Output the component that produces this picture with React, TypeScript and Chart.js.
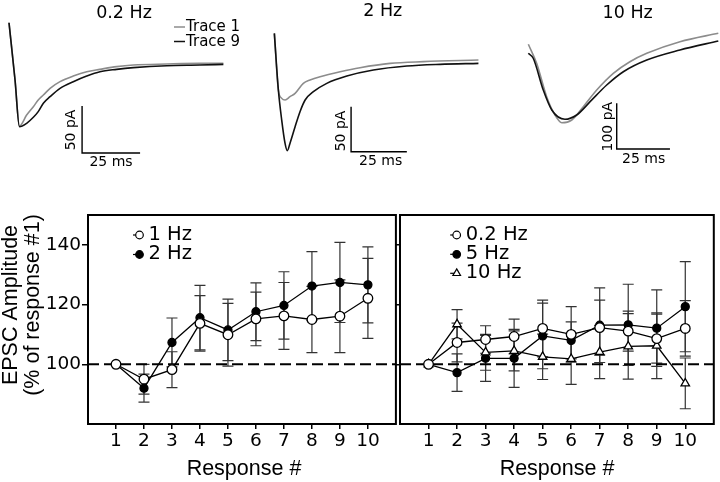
import React, { useEffect, useRef } from 'react';
import { Chart, registerables } from 'chart.js';

Chart.register(...registerables);

const SANS = 'DejaVu Sans';
const ARIAL = 'Liberation Sans';
Chart.defaults.font.family = SANS;
Chart.defaults.color = '#000';

// ---------------- Top: EPSC traces (time in ms, current in pA vs. baseline) ----------------
const T_02HZ = [0, 2.6, 4.5, 7.6, 10.5, 12.6, 14.8, 17.7, 22.0, 27.7, 33.5, 39.2, 46.4, 53.6, 68.0, 82.3, 92.4];
const I_02HZ_TRACE1 = [43.9, -17.0, -66.0, -54.3, -45.4, -38.3, -33.0, -25.9, -18.8, -12.8, -8.2, -5.7, -2.8, -1.1, 0, 0.7, 0.7];
const I_02HZ_TRACE9 = [43.9, -17.0, -66.7, -63.1, -56.7, -50.7, -41.8, -34.8, -25.9, -18.8, -12.8, -8.2, -5.7, -3.9, -1.8, -1.1, -0.4];

const T_2HZ_TRACE1 = [0, 1.8, 3.3, 4.8, 7.0, 9.3, 13.0, 16.0, 20.5, 29.5, 38.4, 51.9, 66.8, 91.5];
const I_2HZ_TRACE1 = [30.7, -32.2, -41.5, -43.3, -39.6, -35.9, -24.8, -21.1, -17.4, -11.9, -7.4, -2.6, -0.7, 1.1];
const T_2HZ_TRACE9 = [0, 1.8, 3.3, 4.8, 5.8, 7.0, 9.3, 11.5, 13.8, 17.5, 23.5, 32.5, 44.4, 59.4, 74.3, 91.5];
const I_2HZ_TRACE9 = [30.7, -32.2, -65.6, -91.5, -99.6, -91.5, -73.0, -56.3, -43.3, -34.1, -24.8, -16.7, -10.0, -5.6, -3.7, -2.6];

const T_10HZ_TRACE1 = [0, 3.9, 8.6, 12.5, 15.7, 20.4, 25.8, 32.1, 39.9, 47.7, 55.6, 71.2, 89.2];
const I_10HZ_TRACE1 = [-9.4, -51, -124.1, -164.1, -181, -175.1, -146, -109.4, -72.9, -47.5, -29.1, -3.7, 14.7];
const T_10HZ_TRACE9 = [0, 2.3, 7, 11, 17.2, 22.7, 29, 36.8, 44.6, 55.6, 71.2, 89.2];
const I_10HZ_TRACE9 = [-29.1, -40, -109.4, -153.2, -173.5, -164.1, -135, -98.5, -69.4, -43.8, -21.9, -2.2];

// scale bars (ms, pA)
const BAR_02HZ_T = [31.5, 31.5, 56.5];
const BAR_02HZ_I = [-44.7, -94.7, -94.7];
const BAR_2HZ_T = [34.4, 34.4, 59.4];
const BAR_2HZ_I = [-50.8, -100.8, -100.8];
const BAR_10HZ_T = [41.5, 41.5, 66.5];
const BAR_10HZ_I = [-138.5, -238.5, -238.5];

// ---------------- Bottom: EPSC amplitude (% of response #1) ----------------
const RESPONSE = [1, 2, 3, 4, 5, 6, 7, 8, 9, 10];
const X_TICKS = [1, 2, 3, 4, 5, 6, 7, 8, 9, 10];
const Y_TICKS = [100, 120, 140];

const L_1HZ = [100, 95, 98.2, 113.7, 109.9, 115.2, 116.2, 115, 116.1, 122.1];
const L_1HZ_ERR = [0, 5, 6, 9.3, 10.5, 9, 11.2, 11.1, 12.2, 13.4];
const L_2HZ = [100, 92, 107.3, 115.6, 111.5, 117.6, 119.7, 126.2, 127.4, 126.6];
const L_2HZ_ERR = [0, 4.7, 8.2, 10.8, 10.3, 9.7, 11.3, 11.5, 13.4, 12.7];

const R_02HZ = [100, 107.3, 108.3, 109.3, 112, 110, 112.3, 111.1, 108.6, 112];
const R_02HZ_ERR = [0, 6.5, 4.6, 5.8, 9.5, 9.3, 9.2, 6.7, 8.2, 9.3];
const R_5HZ = [100, 97.2, 102, 102, 109.5, 108, 113.1, 113.2, 112.1, 119.3];
const R_5HZ_ERR = [0, 6.3, 7.7, 9.7, 11, 6.2, 12.5, 13.6, 12.8, 15.1];
const R_10HZ = [100, 113.4, 104, 104.5, 102.5, 101.8, 104.1, 106, 106.2, 93.6];
const R_10HZ_ERR = [0, 4.9, 6, 6.7, 7.6, 8.5, 8.9, 11, 11, 8.5];

const pts = (xs: number[], ys: number[]) => xs.map((x, i) => ({ x, y: ys[i] }));

// ---------------- plugins ----------------
const textPlugin = {
  id: 'texts',
  afterDraw(chart: any, _a: any, opts: any) {
    const items = opts.items || [];
    const ctx = chart.ctx;
    for (let k = 0; k < items.length; k++) {
      const it = items[k];
      ctx.save();
      ctx.fillStyle = '#000';
      ctx.font = `${it.size}px "${it.family || SANS}"`;
      ctx.textAlign = it.align || 'center';
      ctx.textBaseline = it.baseline || 'middle';
      ctx.translate(it.x, it.y);
      if (it.rotate) ctx.rotate(-Math.PI / 2);
      ctx.fillText(it.text, 0, 0);
      ctx.restore();
    }
  },
};

const traceKeyPlugin = {
  id: 'traceKey',
  afterDraw(chart: any, _a: any, opts: any) {
    const items = opts.items || [];
    const ctx = chart.ctx;
    for (let k = 0; k < items.length; k++) {
      const it = items[k];
      ctx.save();
      ctx.strokeStyle = it.color;
      ctx.lineWidth = 1.5;
      ctx.beginPath();
      ctx.moveTo(it.x, it.y);
      ctx.lineTo(it.x + 11, it.y);
      ctx.stroke();
      ctx.fillStyle = '#000';
      ctx.font = `15px "${SANS}"`;
      ctx.textAlign = 'left';
      ctx.textBaseline = 'middle';
      ctx.fillText(it.label, it.x + 12, it.y + 0.5);
      ctx.restore();
    }
  },
};

const errorBarPlugin = {
  id: 'errorBars',
  beforeDatasetsDraw(chart: any) {
    const ctx = chart.ctx;
    const xs = chart.scales.x;
    const ys = chart.scales.y;
    ctx.save();
    ctx.strokeStyle = '#333';
    ctx.lineWidth = 1.2;
    chart.data.datasets.forEach((ds: any) => {
      if (!ds.errors) return;
      ds.data.forEach((p: any, i: number) => {
        const e = ds.errors[i];
        if (!e) return;
        const px = xs.getPixelForValue(p.x);
        const y1 = ys.getPixelForValue(p.y + e);
        const y2 = ys.getPixelForValue(p.y - e);
        ctx.beginPath();
        ctx.moveTo(px, y1);
        ctx.lineTo(px, y2);
        ctx.moveTo(px - 5.5, y1);
        ctx.lineTo(px + 5.5, y1);
        ctx.moveTo(px - 5.5, y2);
        ctx.lineTo(px + 5.5, y2);
        ctx.stroke();
      });
    });
    ctx.restore();
  },
};

const boxPlugin = {
  id: 'box',
  afterDraw(chart: any) {
    const { ctx, chartArea: a } = chart;
    ctx.save();
    ctx.strokeStyle = '#000';
    ctx.lineWidth = 2;
    ctx.strokeRect(a.left, a.top, a.right - a.left, a.bottom - a.top);
    ctx.restore();
  },
};

const markerLegendPlugin = {
  id: 'markerLegend',
  afterDraw(chart: any, _a: any, opts: any) {
    const items = opts.items || [];
    const { ctx, chartArea: a } = chart;
    for (let k = 0; k < items.length; k++) {
      const it = items[k];
      const cx = a.left + it.dx;
      const cy = a.top + it.dy;
      ctx.save();
      ctx.strokeStyle = '#000';
      ctx.lineWidth = 1.2;
      ctx.beginPath();
      ctx.moveTo(cx - 6.5, cy);
      ctx.lineTo(cx, cy);
      ctx.stroke();
      ctx.beginPath();
      if (it.style === 'triangle') {
        const r = 4.4;
        ctx.moveTo(cx, cy - r);
        ctx.lineTo(cx + r * 0.866, cy + r * 0.5);
        ctx.lineTo(cx - r * 0.866, cy + r * 0.5);
        ctx.closePath();
      } else {
        ctx.arc(cx, cy, 3.8, 0, Math.PI * 2);
      }
      ctx.fillStyle = it.style === 'filled' ? '#000' : '#fff';
      ctx.fill();
      ctx.stroke();
      ctx.fillStyle = '#000';
      ctx.font = `19.5px "${SANS}"`;
      ctx.textAlign = 'left';
      ctx.textBaseline = 'middle';
      ctx.fillText(it.label, cx + 9, cy - 0.5);
      ctx.restore();
    }
  },
};

// ---------------- chart builders ----------------
function traceConfig(p: any) {
  return {
    type: 'line',
    data: {
      datasets: [
        { data: p.trace9, borderColor: '#111', borderWidth: 1.6, pointRadius: 0, cubicInterpolationMode: 'monotone' },
        { data: p.trace1, borderColor: '#8c8c8c', borderWidth: 1.6, pointRadius: 0, cubicInterpolationMode: 'monotone' },
        { data: p.bar, borderColor: '#000', borderWidth: 1.4, pointRadius: 0, tension: 0 },
      ],
    },
    options: {
      responsive: false,
      animation: false,
      events: [],
      layout: { padding: 0 },
      scales: {
        x: { type: 'linear', display: false, min: p.xMin, max: p.xMax },
        y: { type: 'linear', display: false, min: p.yMin, max: p.yMax },
      },
      plugins: {
        legend: { display: false },
        tooltip: { enabled: false },
        texts: { items: p.texts },
        traceKey: { items: p.keys || [] },
      },
    },
    plugins: [textPlugin, traceKeyPlugin],
  };
}

function ampConfig(p: any) {
  const series = p.series.map((s: any) => ({
    data: pts(RESPONSE, s.values),
    errors: s.errors,
    borderColor: '#000',
    borderWidth: 1.3,
    tension: 0,
    pointStyle: s.style === 'triangle' ? 'triangle' : 'circle',
    pointRadius: s.style === 'filled' ? 4 : s.style === 'triangle' ? 4.9 : 4.8,
    pointBackgroundColor: s.style === 'filled' ? '#000' : '#fff',
    pointBorderColor: '#000',
    pointBorderWidth: 1.3,
  }));
  series.push({
    data: [{ x: 0, y: 100 }, { x: 11, y: 100 }],
    borderColor: '#000',
    borderWidth: 2,
    borderDash: [11, 5],
    pointRadius: 0,
    tension: 0,
  });
  return {
    type: 'line',
    data: { datasets: series },
    options: {
      responsive: false,
      animation: false,
      events: [],
      layout: { padding: { top: 15, right: p.padRight, left: 0, bottom: 0 } },
      scales: {
        x: {
          type: 'linear',
          min: 0,
          max: 11,
          afterBuildTicks: (s: any) => { s.ticks = X_TICKS.map((v) => ({ value: v })); },
          afterFit: (s: any) => { s.height = 58; },
          ticks: { font: { size: 18.5, family: SANS }, color: '#000', padding: 1, maxRotation: 0, autoSkip: false },
          grid: { display: true, drawOnChartArea: false, drawTicks: true, tickLength: 5, color: '#000', lineWidth: 1.5 },
          border: { display: false },
        },
        y: {
          type: 'linear',
          min: 80,
          max: 150,
          afterBuildTicks: (s: any) => { s.ticks = Y_TICKS.map((v) => ({ value: v })); },
          afterFit: (s: any) => { s.width = p.yWidth; },
          ticks: { display: p.showY, font: { size: 18.5, family: SANS }, color: '#000', padding: 1 },
          grid: { display: true, drawOnChartArea: false, drawTicks: true, tickLength: p.yTick, color: '#000', lineWidth: 1.5 },
          border: { display: false },
        },
      },
      plugins: {
        legend: { display: false },
        tooltip: { enabled: false },
        texts: { items: p.texts },
        markerLegend: { items: p.legend },
      },
    },
    plugins: [errorBarPlugin, boxPlugin, textPlugin, markerLegendPlugin],
  };
}

function ChartBox({ left, top, width, height, config }: any) {
  const ref = useRef<HTMLCanvasElement>(null);
  useEffect(() => {
    const chart = new Chart(ref.current as HTMLCanvasElement, config as any);
    return () => chart.destroy();
  }, []);
  return (
    <canvas
      ref={ref}
      width={width}
      height={height}
      style={{ position: 'absolute', left, top, width, height }}
    />
  );
}

const panel02 = traceConfig({
  trace1: pts(T_02HZ, I_02HZ_TRACE1),
  trace9: pts(T_02HZ, I_02HZ_TRACE9),
  bar: pts(BAR_02HZ_T, BAR_02HZ_I),
  xMin: -3.88, xMax: 108.19, yMin: -144.7, yMax: 68.1,
  texts: [
    { text: '0.2 Hz', x: 124, y: 13, size: 17.5 },
    { text: '50 pA', x: 71, y: 130, size: 14, rotate: true },
    { text: '25 ms', x: 111, y: 162, size: 14 },
  ],
  keys: [
    { label: 'Trace 1', color: '#8c8c8c', x: 174, y: 27 },
    { label: 'Trace 9', color: '#111', x: 174, y: 41.5 },
  ],
});

const panel2 = traceConfig({
  trace1: pts(T_2HZ_TRACE1, I_2HZ_TRACE1),
  trace9: pts(T_2HZ_TRACE9, I_2HZ_TRACE9),
  bar: pts(BAR_2HZ_T, BAR_2HZ_I),
  xMin: -15.4, xMax: 92.2, yMin: -154.4, yMax: 67.8,
  texts: [
    { text: '2 Hz', x: 142.7, y: 11.5, size: 17.5 },
    { text: '50 pA', x: 101, y: 131, size: 14, rotate: true },
    { text: '25 ms', x: 140.7, y: 161.5, size: 14 },
  ],
});

const panel10 = traceConfig({
  trace1: pts(T_10HZ_TRACE1, I_10HZ_TRACE1),
  trace9: pts(T_10HZ_TRACE9, I_10HZ_TRACE9),
  bar: pts(BAR_10HZ_T, BAR_10HZ_I),
  xMin: -22.7, xMax: 90, yMin: -350.1, yMax: 87.5,
  texts: [
    { text: '10 Hz', x: 147.7, y: 13, size: 17.5 },
    { text: '100 pA', x: 128, y: 126.7, size: 14, rotate: true },
    { text: '25 ms', x: 163.7, y: 159, size: 14 },
  ],
});

const leftAmp = ampConfig({
  series: [
    { values: L_1HZ, errors: L_1HZ_ERR, style: 'open' },
    { values: L_2HZ, errors: L_2HZ_ERR, style: 'filled' },
  ],
  padRight: 2,
  yWidth: 88,
  yTick: 6,
  showY: true,
  texts: [
    { text: 'EPSC Amplitude', x: 16.5, y: 105, size: 21.5, family: ARIAL, rotate: true, baseline: 'alphabetic' },
    { text: '(% of response #1)', x: 38.5, y: 105, size: 21.5, family: ARIAL, rotate: true, baseline: 'alphabetic' },
    { text: 'Response #', x: 244, y: 275, size: 21.5, family: ARIAL, baseline: 'alphabetic' },
  ],
  legend: [
    { label: '1 Hz', style: 'open', dx: 51.5, dy: 20 },
    { label: '2 Hz', style: 'filled', dx: 51.5, dy: 39.5 },
  ],
});

const rightAmp = ampConfig({
  series: [
    { values: R_02HZ, errors: R_02HZ_ERR, style: 'open' },
    { values: R_10HZ, errors: R_10HZ_ERR, style: 'triangle' },
    { values: R_5HZ, errors: R_5HZ_ERR, style: 'filled' },
  ],
  padRight: 6,
  yWidth: 8,
  yTick: 4,
  showY: false,
  texts: [
    { text: 'Response #', x: 165, y: 275, size: 21.5, family: ARIAL, baseline: 'alphabetic' },
  ],
  legend: [
    { label: '0.2 Hz', style: 'open', dx: 56.7, dy: 20 },
    { label: '5 Hz', style: 'filled', dx: 56.7, dy: 39.3 },
    { label: '10 Hz', style: 'triangle', dx: 56.7, dy: 58.3 },
  ],
});

export default function App() {
  return (
    <div style={{ position: 'absolute', left: 0, top: 0, width: 720, height: 482, background: '#fff', overflow: 'hidden' }}>
      <ChartBox left={0} top={0} width={260} height={200} config={panel02} />
      <ChartBox left={240} top={0} width={240} height={200} config={panel2} />
      <ChartBox left={480} top={0} width={240} height={200} config={panel10} />
      <ChartBox left={0} top={200} width={402} height={282} config={leftAmp} />
      <ChartBox left={392} top={200} width={328} height={282} config={rightAmp} />
    </div>
  );
}
